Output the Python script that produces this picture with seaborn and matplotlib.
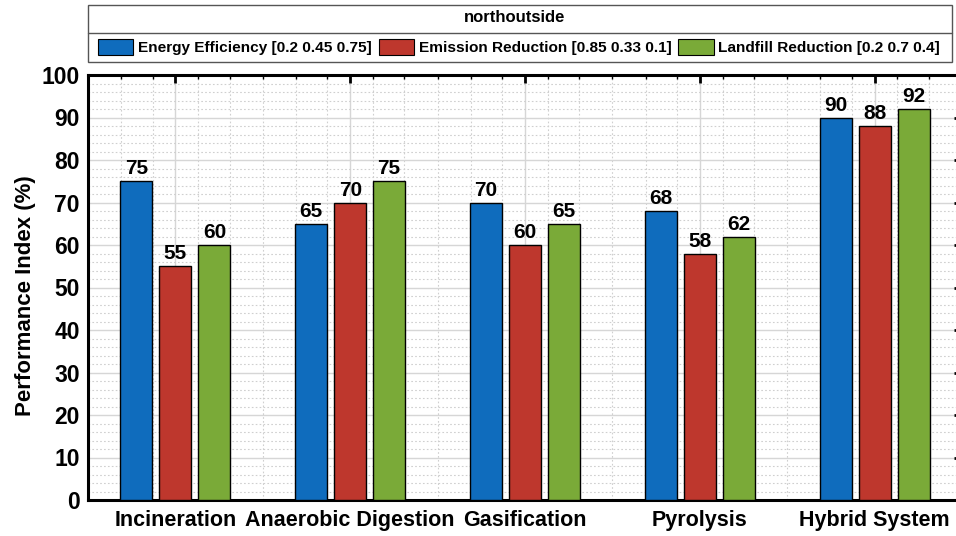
import matplotlib
matplotlib.use("Agg")
import matplotlib.pyplot as plt
import seaborn as sns
import pandas as pd
import numpy as np
from matplotlib.patches import Rectangle, Patch
from matplotlib.lines import Line2D
from matplotlib.ticker import FixedLocator, MultipleLocator

categories = ["Incineration", "Anaerobic Digestion", "Gasification", "Pyrolysis", "Hybrid System"]
series = ["Energy Efficiency [0.2 0.45 0.75]",
          "Emission Reduction [0.85 0.33 0.1]",
          "Landfill Reduction [0.2 0.7 0.4]"]
energy = [75, 65, 70, 68, 90]
emission = [55, 70, 60, 58, 88]
landfill = [60, 75, 65, 62, 92]
colors = ["#0F6CBD", "#BE372D", "#7AAA38"]

df = pd.DataFrame({
    "Category": categories * 3,
    "Series": [series[0]] * 5 + [series[1]] * 5 + [series[2]] * 5,
    "Value": energy + emission + landfill,
})

sns.set_style("white")
plt.rcParams["font.family"] = ["Liberation Sans", "DejaVu Sans"]
plt.rcParams["font.weight"] = "bold"
for k in ["text.color", "axes.labelcolor", "xtick.color", "ytick.color"]:
    plt.rcParams[k] = "black"

fig = plt.figure(figsize=(9.56, 5.36), dpi=100)
ax = fig.add_axes([88 / 956, 36 / 536, 874 / 956, 425 / 536])

sns.barplot(data=df, x="Category", y="Value", hue="Series", order=categories,
            hue_order=series, palette=colors, width=0.669, gap=0.18,
            edgecolor="black", linewidth=1.0, saturation=1, ax=ax, zorder=3)

for cont in ax.containers:
    ax.bar_label(cont, fmt="%d", padding=2, fontsize=15, fontweight="bold", zorder=4)

if ax.get_legend() is not None:
    ax.get_legend().remove()

ax.set_xlim(-0.5, 4.5)
ax.set_ylim(0, 100)
ax.set_xticks(range(len(categories)))
ax.set_xticklabels(categories, fontsize=15.5, fontweight="bold")
minors = []
for k in range(len(categories)):
    minors += [k - 0.31, k - 0.13, k + 0.13, k + 0.31, k + 0.5]
ax.xaxis.set_minor_locator(FixedLocator(minors))
ax.yaxis.set_major_locator(MultipleLocator(10))
ax.yaxis.set_minor_locator(MultipleLocator(2))
ax.tick_params(axis="y", labelsize=16.5)
for t in ax.get_yticklabels():
    t.set_fontweight("bold")
ax.tick_params(which="major", direction="in", length=6, width=2, top=True, right=True, pad=6)
ax.tick_params(which="minor", direction="in", length=3, width=1, top=True, right=True)
ax.tick_params(axis="x", which="major", pad=7)

ax.set_xlabel("")
ax.set_ylabel("Performance Index (%)", fontsize=16, fontweight="bold")
ax.yaxis.set_label_coords(-0.06, 0.482)

ax.grid(which="major", color="#d6d6d6", linestyle="-", linewidth=1.0, zorder=0)
ax.grid(which="minor", color="#cfcfcf", linestyle=(0, (1.5, 2)), linewidth=0.8, zorder=0)
ax.set_axisbelow(True)
for s in ax.spines.values():
    s.set_linewidth(2.2)
    s.set_color("black")

# Legend box (northoutside)
W, H = 956, 536
fig.add_artist(Rectangle((88 / W, 1 - 62 / H), 864 / W, 57 / H, transform=fig.transFigure,
                         fill=True, facecolor="white", edgecolor="#555555", lw=1.0))
fig.add_artist(Line2D([88 / W, 952 / W], [1 - 33 / H, 1 - 33 / H], transform=fig.transFigure,
                      color="#555555", lw=1.0))
fig.text(515 / W, 1 - 18 / H, "northoutside", ha="center", va="center",
         fontsize=12, fontweight="bold")
handles = [Patch(facecolor=c, edgecolor="black", linewidth=0.8) for c in colors]
fig.legend(handles, series, loc="center", bbox_to_anchor=(519 / W, 1 - 47 / H), ncol=3,
           frameon=False, prop={"size": 11.1, "weight": "bold"}, handlelength=2.3,
           handleheight=1.3, columnspacing=0.45, handletextpad=0.3, borderaxespad=0,
           borderpad=0.1)

fig.savefig("out.png", dpi=100)
